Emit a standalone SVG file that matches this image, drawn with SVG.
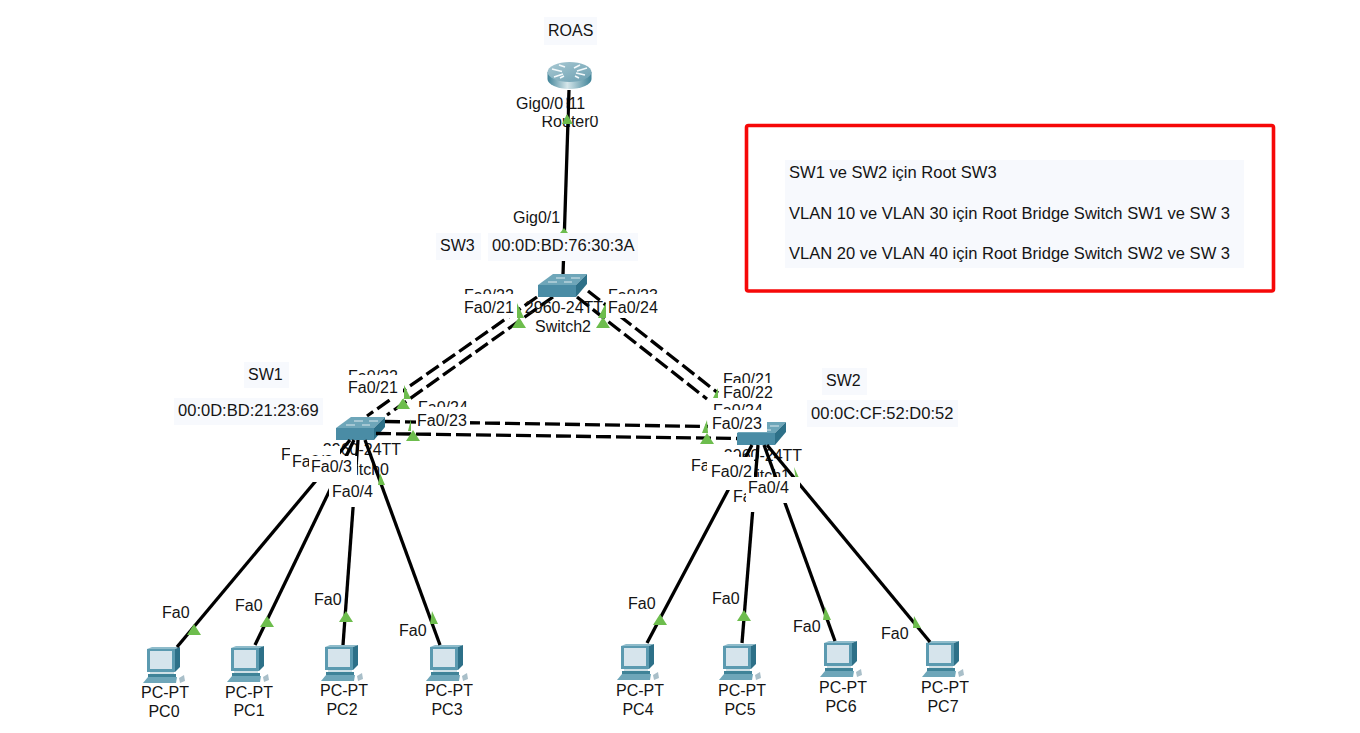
<svg xmlns="http://www.w3.org/2000/svg" xmlns:xlink="http://www.w3.org/1999/xlink" width="1360" height="733" viewBox="0 0 1360 733">
<style>
text{font-family:"Liberation Sans",Arial,sans-serif;font-size:16px;fill:#141414}
text.b{font-size:16.55px}
.c{text-anchor:middle}
.w{fill:#fff}
.n{fill:#f7f9fd}
.solid{stroke:#000;stroke-width:3.3;fill:none}
.dash{stroke:#000;stroke-width:3.3;fill:none;stroke-dasharray:15 5}
.tri{fill:#6dbd4d}
</style>
<defs>
<linearGradient id="rt" x1="0" x2="1" y1="0" y2="0"><stop offset="0" stop-color="#3f8398"/><stop offset=".45" stop-color="#d5e6ea"/><stop offset="1" stop-color="#3f8398"/></linearGradient>
<linearGradient id="rtop" x1="0" x2="1" y1="0" y2="1"><stop offset="0" stop-color="#a9c9d3"/><stop offset="1" stop-color="#6b9fb1"/></linearGradient>
<g id="sw-icon">
<polygon points="15,0 49,0 38,11 0,11" fill="#6ea6b9"/>
<polygon points="0,11 38,11 38,23 0,23" fill="#4a8ca5"/>
<polygon points="38,11 49,0 49,10 38,23" fill="#2d7088"/>
<path d="M18 4h9M33 4h9M10 8h9M26 8h8" stroke="#dbe9ee" stroke-width="1" fill="none"/>
</g>
<g id="pc-icon">
<polygon points="4,2 9,0 37,0 32,2" fill="#8fbccb"/>
<rect x="4" y="2" width="28" height="23" fill="#5b9ab0"/>
<polygon points="32,2 37,0 37,20 32,25" fill="#2d7088"/>
<rect x="7" y="4" width="22" height="18" fill="#d6e4ec"/>
<rect x="7" y="25" width="24" height="2" fill="#cfe0e6"/>
<rect x="5" y="27" width="28" height="3" fill="#3f8398"/>
<polygon points="0,36 5,30 34,30 33,36" fill="#6ea6b9"/>
<polygon points="36,31 41,28 42,34 37,36" fill="#a9bfc9"/>
</g>
</defs>
<rect width="1360" height="733" fill="#fff"/>

<g id="note">
<rect x="746.500" y="125.500" width="527" height="165.500" rx="2" fill="none" stroke="#f60808" stroke-width="3.600"/>
<rect class="n" x="785" y="160" width="459" height="108"/>
<text class="b" x="789" y="178">SW1 ve SW2 için Root SW3</text>
<text class="b" x="789" y="219">VLAN 10 ve VLAN 30 için Root Bridge Switch SW1 ve SW 3</text>
<text class="b" x="789" y="259">VLAN 20 ve VLAN 40 için Root Bridge Switch SW2 ve SW 3</text>
</g>

<g id="router0">
<rect class="n" x="544" y="17" width="53" height="28"/>
<text x="548" y="36">ROAS</text>
<path d="M547.500 72v7a22 10 0 0 0 44 0v-7z" fill="url(#rt)"/>
<ellipse cx="569.500" cy="72" rx="22" ry="10" fill="url(#rtop)"/>
<path d="M552 69l10 2.500M565 67l-6-2M587 68l-10 3M574 68l6-3M554 77l9-3M560 78l4-2M585 75l-9-2M579 78l-4-2" stroke="#f2f8fa" stroke-width="1.600" fill="none"/>
<text class="c" x="570" y="127">Router0</text>
<rect class="w" x="540" y="95" width="60" height="21"/>
<text class="c" x="568" y="109">2911</text>
</g>

<g id="switch0">
<text class="c" x="362" y="455">2960-24TT</text>
<text class="c" x="361" y="475">Switch0</text>
<use xlink:href="#sw-icon" href="#sw-icon" x="336" y="417"/>
</g>
<g id="switch1">
<text class="c" x="763" y="461">2960-24TT</text>
<text class="c" x="762" y="481">Switch1</text>
<use xlink:href="#sw-icon" href="#sw-icon" x="737" y="422"/>
</g>

<g id="pc0"><use xlink:href="#pc-icon" href="#pc-icon" x="143" y="647"/><text class="c" x="165" y="698">PC-PT</text><text class="c" x="164" y="717">PC0</text></g>
<g id="pc1"><use xlink:href="#pc-icon" href="#pc-icon" x="227" y="646"/><text class="c" x="249" y="698">PC-PT</text><text class="c" x="249" y="716">PC1</text></g>
<g id="pc2"><use xlink:href="#pc-icon" href="#pc-icon" x="321" y="645"/><text class="c" x="344" y="696">PC-PT</text><text class="c" x="342" y="715">PC2</text></g>
<g id="pc3"><use xlink:href="#pc-icon" href="#pc-icon" x="426" y="645"/><text class="c" x="449" y="696">PC-PT</text><text class="c" x="447" y="715">PC3</text></g>
<g id="pc4"><use xlink:href="#pc-icon" href="#pc-icon" x="617" y="644"/><text class="c" x="640" y="696">PC-PT</text><text class="c" x="638" y="715">PC4</text></g>
<g id="pc5"><use xlink:href="#pc-icon" href="#pc-icon" x="719" y="644"/><text class="c" x="742" y="696">PC-PT</text><text class="c" x="740" y="715">PC5</text></g>
<g id="pc6"><use xlink:href="#pc-icon" href="#pc-icon" x="820" y="641"/><text class="c" x="843" y="693">PC-PT</text><text class="c" x="841" y="712">PC6</text></g>
<g id="pc7"><use xlink:href="#pc-icon" href="#pc-icon" x="922" y="641"/><text class="c" x="945" y="693">PC-PT</text><text class="c" x="943" y="712">PC7</text></g>

<g id="connectors">
<line class="solid" x1="569" y1="90" x2="563" y2="275"/>
<line class="dash" x1="537" y1="297" x2="367" y2="416"/>
<line class="dash" x1="553" y1="297" x2="387" y2="415"/>
<line class="dash" x1="577" y1="297" x2="707" y2="399"/>
<line class="dash" x1="588" y1="291" x2="718" y2="393"/>
<line class="dash" x1="385" y1="421.500" x2="710" y2="426.500"/>
<line class="dash" x1="376" y1="433.500" x2="737" y2="438.500"/>
<line class="solid" x1="350" y1="440" x2="177" y2="647"/>
<line class="solid" x1="354" y1="440" x2="255" y2="645"/>
<line class="solid" x1="358" y1="440" x2="343" y2="645"/>
<line class="solid" x1="365" y1="440" x2="440" y2="645"/>
<line class="solid" x1="752" y1="445" x2="647" y2="643"/>
<line class="solid" x1="758" y1="445" x2="742" y2="643"/>
<line class="solid" x1="764" y1="445" x2="835" y2="641"/>
<line class="solid" x1="767" y1="445" x2="930" y2="642"/>
</g>

<g id="switch2">
<text class="c" x="564" y="313">2960-24TT</text>
<text class="c" x="563" y="332">Switch2</text>
<use xlink:href="#sw-icon" href="#sw-icon" x="538" y="274"/>
</g>

<g id="link-lights">
<polygon class="tri" points="567,114 573,124 562,124"/>
<polygon class="tri" points="564,228 568,233 560,233"/>
<polygon class="tri" points="517,303 524,318 517,318"/>
<polygon class="tri" points="519,317 526,328 512,328"/>
<polygon class="tri" points="606,303 606,318 598,318"/>
<polygon class="tri" points="603,317 610,328 596,328"/>
<polygon class="tri" points="404,385 411,399 404,399"/>
<polygon class="tri" points="403,398 410,409 396,409"/>
<polygon class="tri" points="411,419 411,431 408,431"/>
<polygon class="tri" points="413,430 420,441 406,441"/>
<polygon class="tri" points="380,473 385,485 378,485"/>
<polygon class="tri" points="718,388 718,398 713,398"/>
<polygon class="tri" points="707,420 708,433 702,433"/>
<polygon class="tri" points="707,433 714,444 700,444"/>
<polygon class="tri" points="794,467 800,480 796,481"/>
<polygon class="tri" points="194,624 201,635 187,635"/>
<polygon class="tri" points="267,616 274,627 260,627"/>
<polygon class="tri" points="346,611 353,622 339,622"/>
<polygon class="tri" points="432,611 438,624 430,624"/>
<polygon class="tri" points="660,614 667,625 653,625"/>
<polygon class="tri" points="744,610 751,621 737,621"/>
<polygon class="tri" points="825,607 831,620 823,620"/>
<polygon class="tri" points="914,616 921,628 913,628"/>
</g>

<g id="port-labels">
<rect class="w" x="514" y="96" width="52.500" height="19"/><text x="516" y="109">Gig0/0</text>
<text x="513" y="223">Gig0/1</text>
<rect class="n" x="436" y="233" width="45" height="27"/><text x="440" y="251">SW3</text>
<rect class="n" x="488" y="233" width="150" height="28"/><text class="b" x="492" y="251">00:0D:BD:76:30:3A</text>

<text x="464" y="301">Fa0/22</text>
<rect class="w" x="462" y="294" width="55" height="24"/><text x="464" y="313">Fa0/21</text>
<text x="608" y="301">Fa0/23</text>
<rect class="w" x="606" y="294" width="55" height="24"/><text x="608" y="313">Fa0/24</text>

<rect class="n" x="244" y="362" width="45" height="26"/><text x="248" y="380">SW1</text>
<rect class="n" x="174" y="398" width="149" height="27"/><text class="b" x="178" y="416">00:0D:BD:21:23:69</text>
<text x="348" y="382">Fa0/22</text>
<rect class="w" x="346" y="375" width="57" height="24"/><text x="348" y="393">Fa0/21</text>
<text x="418" y="413">Fa0/24</text>
<rect class="w" x="416" y="407" width="54" height="25"/><text x="417" y="426">Fa0/23</text>

<rect class="w" x="279" y="447" width="50" height="24"/><text x="281" y="460">Fa0/1</text>
<rect class="w" x="290" y="446" width="50" height="30"/><text x="292" y="467">Fa0/2</text>
<rect class="w" x="309" y="456" width="48" height="26"/><text x="311" y="472">Fa0/3</text>
<rect class="w" x="329" y="481" width="49" height="26"/><text x="332" y="497">Fa0/4</text>

<rect class="n" x="822" y="368" width="45" height="27"/><text x="826" y="386">SW2</text>
<rect class="n" x="807" y="400" width="151" height="27"/><text class="b" x="811" y="419">00:0C:CF:52:D0:52</text>
<text x="723" y="385">Fa0/21</text>
<rect class="w" x="719" y="383" width="56" height="17"/><text x="723" y="398">Fa0/22</text>
<text x="713" y="416">Fa0/24</text>
<rect class="w" x="708" y="410" width="59" height="22"/><text x="712" y="429">Fa0/23</text>

<rect class="w" x="689" y="452" width="50" height="24"/><text x="691" y="471">Fa0/1</text>
<rect class="w" x="731" y="485" width="50" height="27"/><text x="733" y="502">Fa0/3</text>
<rect class="w" x="707" y="457" width="47" height="33"/><text x="711" y="477">Fa0/2</text>
<rect class="w" x="746" y="477" width="54" height="26"/><text x="748" y="493">Fa0/4</text>

<text x="162" y="618">Fa0</text>
<text x="235" y="611">Fa0</text>
<text x="314" y="605">Fa0</text>
<text x="399" y="636">Fa0</text>
<text x="628" y="609">Fa0</text>
<text x="712" y="604">Fa0</text>
<text x="793" y="632">Fa0</text>
<text x="881" y="639">Fa0</text>
</g>
</svg>
